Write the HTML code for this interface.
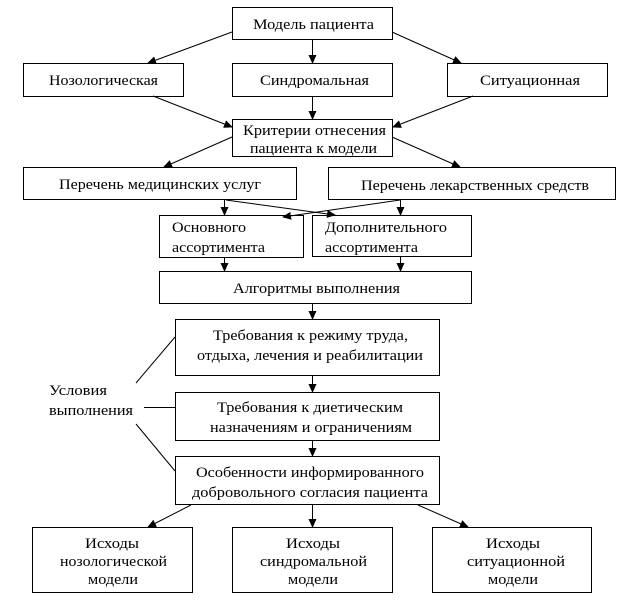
<!DOCTYPE html>
<html><head><meta charset="utf-8"><style>
html,body{margin:0;padding:0;background:#fff;}
svg{display:block;}
text{font-family:"Liberation Serif","DejaVu Serif",serif;font-size:15px;fill:#000;}
</style></head><body>
<svg width="640" height="600" viewBox="0 0 640 600" xmlns="http://www.w3.org/2000/svg">
<defs>
<marker id="a" markerWidth="9" markerHeight="8" refX="8" refY="4" orient="auto" markerUnits="userSpaceOnUse">
<path d="M0,0 L9,4 L0,8 z" fill="#000"/>
</marker>
</defs>
<g fill="none" stroke="#000" stroke-width="1">
<rect x="232.5" y="7.5" width="160" height="32"/>
<rect x="23.5" y="63.5" width="160" height="33"/>
<rect x="232.5" y="63.5" width="160" height="33"/>
<rect x="447.5" y="63.5" width="160" height="33"/>
<rect x="232.5" y="119.5" width="160" height="37"/>
<rect x="23.5" y="167.5" width="273" height="32"/>
<rect x="328.5" y="167.5" width="287" height="32"/>
<rect x="159.5" y="215.5" width="144" height="42"/>
<rect x="312.5" y="215.5" width="159" height="41"/>
<rect x="159.5" y="271.5" width="312" height="32"/>
<rect x="175.5" y="319.5" width="264" height="56"/>
<rect x="175.5" y="392.5" width="264" height="48"/>
<rect x="175.5" y="456.5" width="264" height="48"/>
<rect x="32.5" y="527.5" width="160" height="65"/>
<rect x="232.5" y="527.5" width="160" height="65"/>
<rect x="432.5" y="527.5" width="159" height="65"/>
</g>
<g stroke="#000" stroke-width="1" marker-end="url(#a)">
<line x1="232" y1="32" x2="148" y2="63"/>
<line x1="312.5" y1="40" x2="312.5" y2="63"/>
<line x1="392" y1="32" x2="461" y2="63"/>
<line x1="153" y1="96" x2="232" y2="127"/>
<line x1="312.5" y1="96" x2="312.5" y2="119"/>
<line x1="473" y1="96" x2="393" y2="127"/>
<line x1="232" y1="137" x2="164" y2="167"/>
<line x1="392" y1="137" x2="460" y2="167"/>
<line x1="224.5" y1="200" x2="224.5" y2="215"/>
<line x1="400.5" y1="200" x2="400.5" y2="215"/>
<line x1="226" y1="200" x2="335" y2="215"/>
<line x1="400" y1="200" x2="283" y2="217"/>
<line x1="224.5" y1="258" x2="224.5" y2="271"/>
<line x1="400.5" y1="257" x2="400.5" y2="271"/>
<line x1="312.5" y1="304" x2="312.5" y2="319"/>
<line x1="312.5" y1="376" x2="312.5" y2="392"/>
<line x1="312.5" y1="441" x2="312.5" y2="456"/>
<line x1="191" y1="505" x2="148" y2="527"/>
<line x1="312.5" y1="505" x2="312.5" y2="527"/>
<line x1="418" y1="505" x2="468" y2="527"/>
</g>
<g stroke="#000" stroke-width="1">
<line x1="136" y1="383" x2="175" y2="337"/>
<line x1="144" y1="407.5" x2="175" y2="407.5"/>
<line x1="136" y1="424" x2="175" y2="471"/>
</g>
<g>
<text x="253" y="29" textLength="121" lengthAdjust="spacingAndGlyphs">Модель пациента</text>
<text x="49" y="85" textLength="109" lengthAdjust="spacingAndGlyphs">Нозологическая</text>
<text x="260" y="85" textLength="109" lengthAdjust="spacingAndGlyphs">Синдромальная</text>
<text x="480" y="85" textLength="100" lengthAdjust="spacingAndGlyphs">Ситуационная</text>
<text x="243" y="135" textLength="143" lengthAdjust="spacingAndGlyphs">Критерии отнесения</text>
<text x="250" y="153" textLength="127" lengthAdjust="spacingAndGlyphs">пациента к модели</text>
<text x="59" y="189" textLength="202" lengthAdjust="spacingAndGlyphs">Перечень медицинских услуг</text>
<text x="361" y="190" textLength="228" lengthAdjust="spacingAndGlyphs">Перечень лекарственных средств</text>
<text x="172" y="232" textLength="74" lengthAdjust="spacingAndGlyphs">Основного</text>
<text x="172" y="252" textLength="93" lengthAdjust="spacingAndGlyphs">ассортимента</text>
<text x="325" y="232" textLength="122" lengthAdjust="spacingAndGlyphs">Дополнительного</text>
<text x="325" y="252" textLength="93" lengthAdjust="spacingAndGlyphs">ассортимента</text>
<text x="233" y="293" textLength="167" lengthAdjust="spacingAndGlyphs">Алгоритмы выполнения</text>
<text x="213" y="340" textLength="195" lengthAdjust="spacingAndGlyphs">Требования к режиму труда,</text>
<text x="197" y="360" textLength="226" lengthAdjust="spacingAndGlyphs">отдыха, лечения и реабилитации</text>
<text x="217" y="412" textLength="186" lengthAdjust="spacingAndGlyphs">Требования к диетическим</text>
<text x="210" y="432" textLength="202" lengthAdjust="spacingAndGlyphs">назначениям и ограничениям</text>
<text x="196" y="477" textLength="228" lengthAdjust="spacingAndGlyphs">Особенности информированного</text>
<text x="192" y="497" textLength="236" lengthAdjust="spacingAndGlyphs">добровольного согласия пациента</text>
<text x="49" y="395" textLength="58" lengthAdjust="spacingAndGlyphs">Условия</text>
<text x="49" y="415" textLength="84" lengthAdjust="spacingAndGlyphs">выполнения</text>
<text x="85" y="548" textLength="54" lengthAdjust="spacingAndGlyphs">Исходы</text>
<text x="60" y="566" textLength="107" lengthAdjust="spacingAndGlyphs">нозологической</text>
<text x="88" y="584" textLength="50" lengthAdjust="spacingAndGlyphs">модели</text>
<text x="286" y="548" textLength="54" lengthAdjust="spacingAndGlyphs">Исходы</text>
<text x="260" y="566" textLength="107" lengthAdjust="spacingAndGlyphs">синдромальной</text>
<text x="288" y="584" textLength="50" lengthAdjust="spacingAndGlyphs">модели</text>
<text x="486" y="548" textLength="54" lengthAdjust="spacingAndGlyphs">Исходы</text>
<text x="467" y="566" textLength="98" lengthAdjust="spacingAndGlyphs">ситуационной</text>
<text x="488" y="584" textLength="50" lengthAdjust="spacingAndGlyphs">модели</text>
</g>
</svg>
</body></html>
